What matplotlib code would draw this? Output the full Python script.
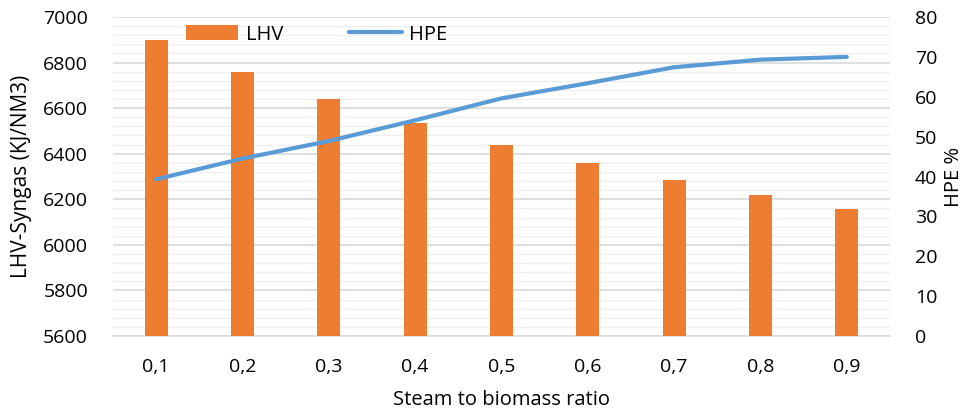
import matplotlib.pyplot as plt
from matplotlib.ticker import MultipleLocator

plt.rcParams['font.family'] = ['Open Sans', 'DejaVu Sans']

# 数据
ratios = ['0,1', '0,2', '0,3', '0,4', '0,5', '0,6', '0,7', '0,8', '0,9']
lhv = [6900, 6760, 6640, 6535, 6440, 6358, 6285, 6218, 6158]
hpe = [39.3, 44.5, 48.9, 54.1, 59.6, 63.4, 67.4, 69.3, 70.0]

orange = '#ED7D31'
blue = '#5B9BD5'

fig = plt.figure(figsize=(9.71, 4.17), dpi=100)
ax = fig.add_axes([113 / 971, 1 - 336 / 417, 777 / 971, 319 / 417])
ax2 = ax.twinx()

x = range(len(ratios))
bars = ax.bar(x, lhv, width=0.27, color=orange, label='LHV', zorder=3)
line, = ax2.plot(x, hpe, color=blue, linewidth=3, solid_capstyle='round', label='HPE', zorder=4)

# 左轴
ax.set_ylim(5600, 7000)
ax.set_xlim(-0.5, len(ratios) - 0.5)
ax.yaxis.set_major_locator(MultipleLocator(200))
ax.yaxis.set_minor_locator(MultipleLocator(40))
ax.grid(axis='y', which='major', color='#d9d9d9', linewidth=1.2, zorder=0)
ax.grid(axis='y', which='minor', color='#efefef', linewidth=1.0, zorder=0)
ax.set_axisbelow(True)

# 右轴
ax2.set_ylim(0, 80)
ax2.yaxis.set_major_locator(MultipleLocator(10))

for a in (ax, ax2):
    for s in ['top', 'left', 'right', 'bottom']:
        a.spines[s].set_visible(False)
    a.tick_params(axis='both', which='both', length=0, labelsize=14, colors='#000000')
ax.spines['bottom'].set_visible(True)
ax.spines['bottom'].set_color('#d9d9d9')
ax.spines['bottom'].set_linewidth(1.2)

ax.set_xticks(list(x))
ax.set_xticklabels(ratios)
ax.tick_params(axis='x', pad=16)
ax.tick_params(axis='y', pad=18)
ax2.tick_params(axis='y', pad=18)

ax.set_ylabel('LHV-Syngas (KJ/NM3)', fontsize=15, labelpad=8)
ax2.set_ylabel('HPE %', fontsize=14.5, labelpad=5)
ax.set_xlabel('Steam to biomass ratio', fontsize=14.5, labelpad=10)

# 图例
ax.legend([bars, line], ['LHV', 'HPE'], loc='upper left', bbox_to_anchor=(0.081, 1.008),
          ncol=2, frameon=False, fontsize=14.5, borderpad=0, handlelength=2.6, handleheight=0.7,
          columnspacing=3.3, handletextpad=0.36)

fig.savefig('out.png', dpi=100)
